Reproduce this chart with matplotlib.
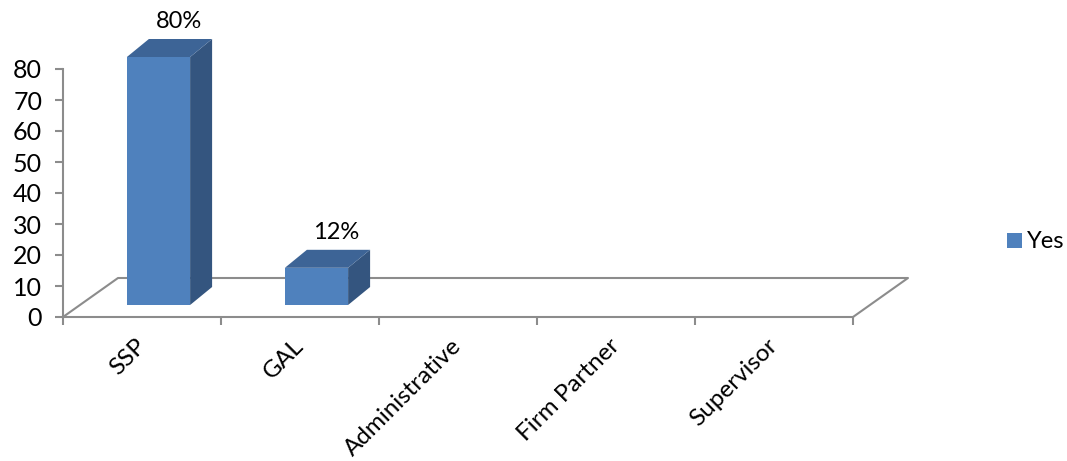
import matplotlib.pyplot as plt
from matplotlib.patches import Polygon, Rectangle
from matplotlib import transforms

plt.rcParams['font.family'] = ['Lato', 'DejaVu Sans']

categories = ['SSP', 'GAL', 'Administrative', 'Firm Partner', 'Supervisor']
values = [80, 12, 0, 0, 0]
labels = ['80%', '12%', '', '', '']
series_name = 'Yes'

front = '#4f81bd'
side = '#34557f'
top = '#3d6496'
gray = '#8c8c8c'

W, H = 1067, 461
fig = plt.figure(figsize=(W / 100, H / 100), dpi=100)
# axes: front floor edge from x=63 to 853 px, value 0..80 from y=317 to 69 px
ax = fig.add_axes([63 / W, (H - 317) / H, (853 - 63) / W, 248 / H])
ax.set_xlim(0, len(categories))
ax.set_ylim(0, 80)

px_x = len(categories) / (853 - 63)   # data units per pixel
px_y = 80 / 248

# floor parallelogram (back part)
fdx, fdy = 55 * px_x, 39 * px_y
n = len(categories)
ax.plot([0, fdx, n + fdx, n], [0, fdy, fdy, 0], color=gray, lw=1.5, clip_on=False)

# bars
bw = 0.4
off_x, off_y = 16.5 * px_x, 12 * px_y
ddx, ddy = 22 * px_x, 18 * px_y
for i, v in enumerate(values):
    if v <= 0:
        continue
    x0 = i + 0.5 - bw / 2 + off_x
    y0 = off_y
    y1 = off_y + v
    ax.add_patch(Polygon([[x0 + bw, y0], [x0 + bw + ddx, y0 + ddy], [x0 + bw + ddx, y1 + ddy], [x0 + bw, y1]],
                         closed=True, fc=side, ec='none', clip_on=False, zorder=3))
    ax.add_patch(Polygon([[x0, y1], [x0 + bw, y1], [x0 + bw + ddx, y1 + ddy], [x0 + ddx, y1 + ddy]],
                         closed=True, fc=top, ec='none', clip_on=False, zorder=3))
    ax.add_patch(Rectangle((x0, y0), bw, v, fc=front, ec='none', clip_on=False, zorder=4))
    ax.text(x0 + bw / 2 + 20 * px_x, y1 + ddy + 17 * px_y, labels[i], ha='center', va='center',
            fontsize=17, color='black')

# axes styling
for s in ['top', 'right']:
    ax.spines[s].set_visible(False)
for s in ['left', 'bottom']:
    ax.spines[s].set_color(gray)
    ax.spines[s].set_linewidth(1.5)
ax.set_yticks(range(0, 81, 10))
ax.tick_params(axis='y', colors=gray, labelcolor='black', labelsize=18, length=6, width=1.5, pad=9)
ax.set_xticks(range(0, n + 1))
ax.set_xticklabels([])
ax.tick_params(axis='x', colors=gray, length=6, width=1.5)

# rotated category labels
trans = transforms.blended_transform_factory(ax.transData, ax.transAxes)
for i, c in enumerate(categories):
    t = ax.text(i + 0.5, 0, c, rotation=45, ha='right', va='top',
                rotation_mode='anchor', fontsize=17.5, transform=trans)
    t.set_transform(trans + transforms.ScaledTranslation(-7 / 100, -18 / 100, fig.dpi_scale_trans))

# legend
fig.patches.append(Rectangle((1007 / W, (H - 248) / H), 15 / W, 15 / H, fc=front, ec='none',
                             transform=fig.transFigure, figure=fig))
fig.text(1027 / W, (H - 241) / H, series_name, ha='left', va='center', fontsize=17)

fig.savefig('out.png', dpi=100)
